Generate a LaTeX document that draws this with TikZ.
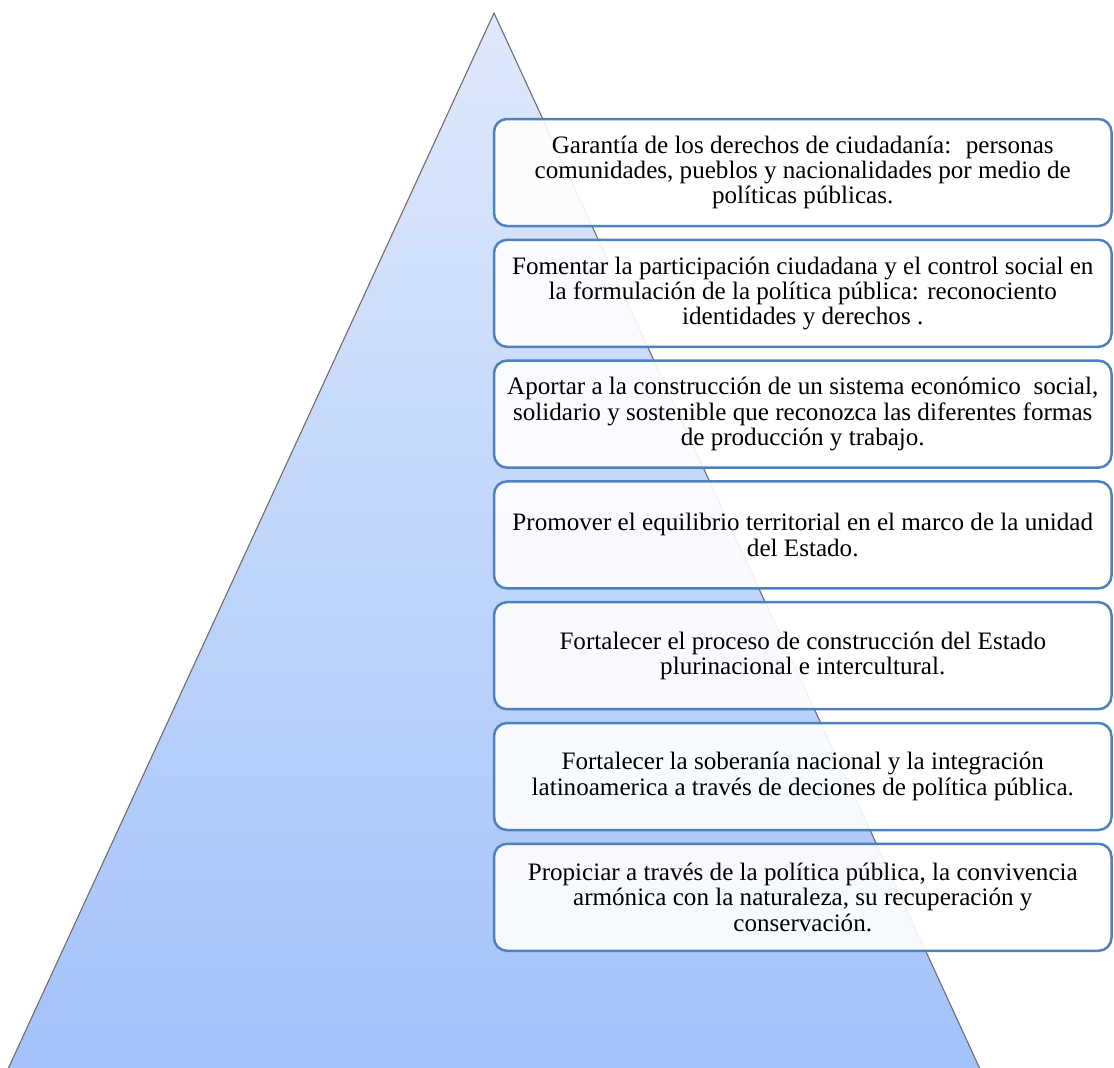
\documentclass[tikz,border=0pt]{standalone}
\usepackage{fontspec}
\setmainfont{Liberation Serif}
\usetikzlibrary{shapes.misc}
\definecolor{boxblue}{HTML}{4F81BD}
\definecolor{tritop}{HTML}{DFE9FB}
\definecolor{tribot}{HTML}{A3C2FA}
\definecolor{triedge}{HTML}{6E6E6E}
\tikzset{
  goalbox/.style={draw=boxblue, line width=2.5bp, rounded corners=13bp,
    fill=white, fill opacity=0.9, text opacity=1, draw opacity=1,
    minimum width=617.5bp, minimum height=107bp, inner sep=0pt,
    align=center,
    font=\fontsize{25.1bp}{25.2bp}\selectfont},
}
\begin{document}
\begin{tikzpicture}[x=1bp,y=-1bp]
\useasboundingbox (0,0) rectangle (1114,1068);
\clip (0,0) rectangle (1114,1068);
% pyramid
\shade[top color=tritop, bottom color=tribot, draw=triedge, line width=1.1bp]
  (494,13) -- (980,1069) -- (8,1069) -- cycle;
% goal boxes
\node[goalbox] (g1) at (802.75,172.5) {Garantía de los derechos de ciudadanía:~ personas\\comunidades, pueblos y nacionalidades por medio de\\políticas públicas.};
\node[goalbox] (g2) at (802.75,293.3) {Fomentar la participación ciudadana y el control social en\\la formulación de la política pública: reconociento\\identidades y derechos .};
\node[goalbox] (g3) at (802.75,414.1) {Aportar a la construcción de un sistema económico~ social,\\solidario y sostenible que reconozca las diferentes formas\\de producción y trabajo.};
\node[goalbox] (g4) at (802.75,534.9) {Promover el equilibrio territorial en el marco de la unidad\\del Estado.};
\node[goalbox] (g5) at (802.75,655.7) {Fortalecer el proceso de construcción del Estado\\plurinacional e intercultural.};
\node[goalbox] (g6) at (802.75,776.5) {Fortalecer la soberanía nacional y la integración\\latinoamerica a través de deciones de política pública.};
\node[goalbox] (g7) at (802.75,897.3) {Propiciar a través de la política pública, la convivencia\\armónica con la naturaleza, su recuperación y\\conservación.};
\end{tikzpicture}
\end{document}
